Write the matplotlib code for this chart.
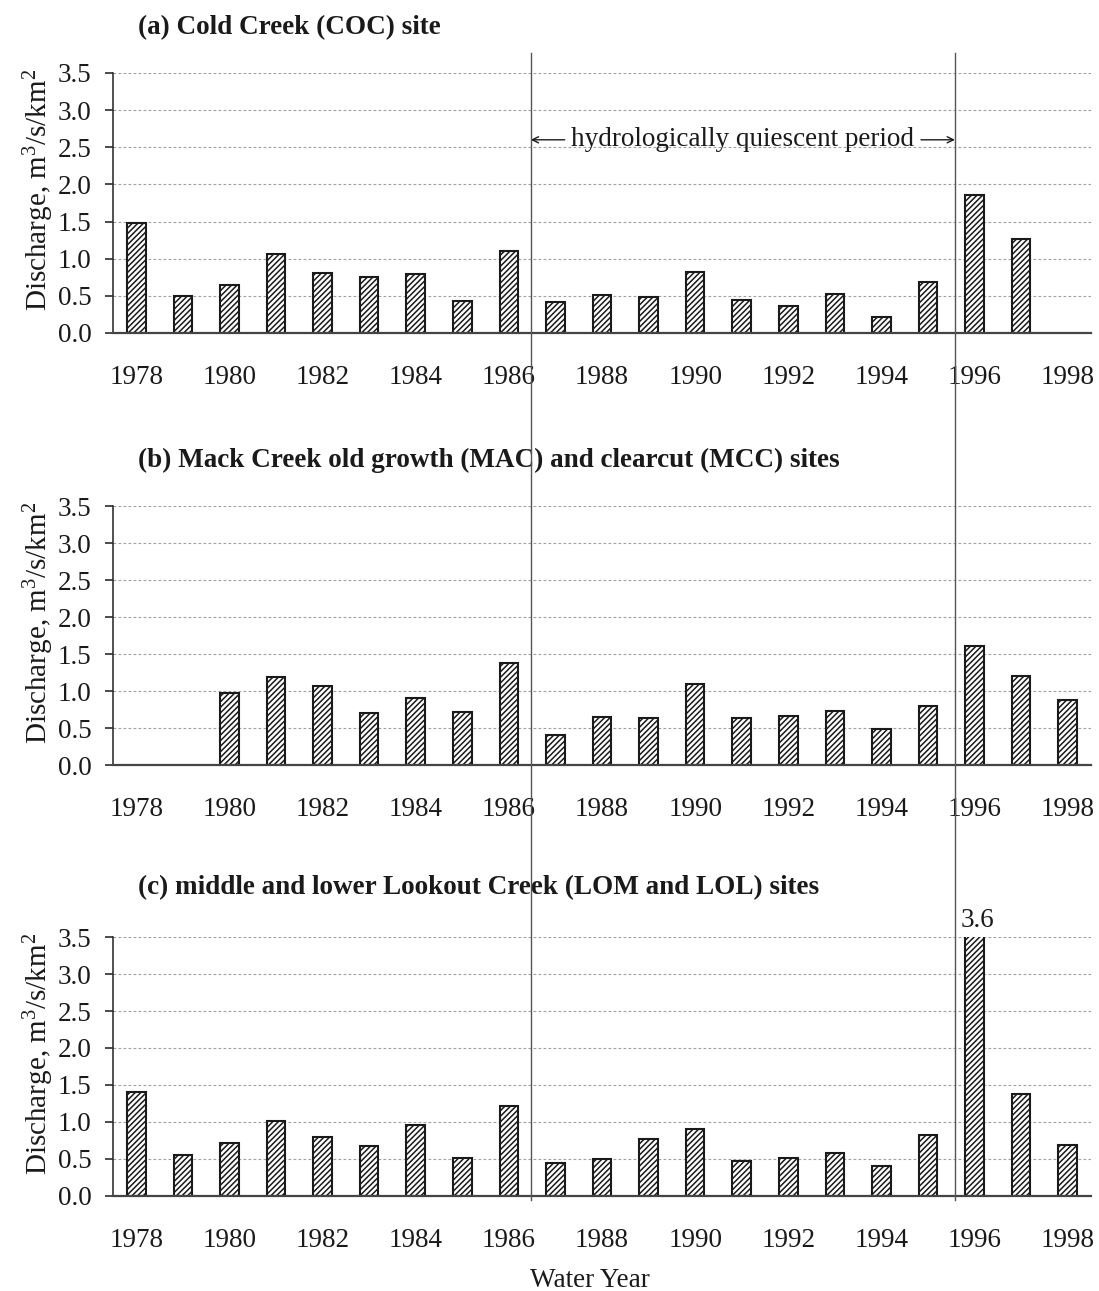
import numpy as np
import matplotlib
matplotlib.use("Agg")
import matplotlib.pyplot as plt
from matplotlib.lines import Line2D
from matplotlib.transforms import blended_transform_factory

# ---- data: annual peak discharge per unit area (m3/s/km2) ----
years = list(range(1978, 1999))

coc = [1.48, 0.50, 0.64, 1.06, 0.81, 0.75, 0.79, 0.43, 1.10,
       0.41, 0.51, 0.48, 0.82, 0.45, 0.36, 0.53, 0.21, 0.69,
       1.86, 1.26, np.nan]

mac_mcc = [np.nan, np.nan, 0.98, 1.19, 1.07, 0.70, 0.91, 0.72, 1.38,
           0.40, 0.65, 0.63, 1.10, 0.64, 0.66, 0.73, 0.49, 0.80,
           1.61, 1.20, 0.88]

lom_lol = [1.40, 0.55, 0.72, 1.02, 0.80, 0.67, 0.96, 0.51, 1.21,
           0.44, 0.50, 0.77, 0.91, 0.47, 0.52, 0.58, 0.40, 0.83,
           3.60, 1.38, 0.69]

titles = ["(a) Cold Creek (COC) site",
          "(b) Mack Creek old growth (MAC) and clearcut (MCC) sites",
          "(c) middle and lower Lookout Creek (LOM and LOL) sites"]

yticks = [0.0, 0.5, 1.0, 1.5, 2.0, 2.5, 3.0, 3.5]
xtick_years = list(range(1978, 1999, 2))
quiescent_period = [1986.47, 1995.58]
y_max = 3.5

# ---- styling ----
SERIF = ["Liberation Serif", "DejaVu Serif"]
plt.rcParams["font.family"] = SERIF
plt.rcParams["mathtext.fontset"] = "custom"
plt.rcParams["mathtext.rm"] = "Liberation Serif"
plt.rcParams["mathtext.it"] = "Liberation Serif:italic"
plt.rcParams["mathtext.bf"] = "Liberation Serif:bold"
plt.rcParams["hatch.linewidth"] = 1.1
FS = 19.5
INK = "#1a1a1a"

fig = plt.figure(figsize=(10.99, 12.91), dpi=100)

panel_rects = [
    [0.1028, 0.7421, 0.8899, 0.2014],
    [0.1028, 0.4074, 0.8899, 0.2006],
    [0.1028, 0.0736, 0.8899, 0.2006],
]
title_y = [0.9785, 0.6437, 0.3122]
series = [coc, mac_mcc, lom_lol]

axes = []
for rect, values, title, ty in zip(panel_rects, series, titles, title_y):
    ax = fig.add_axes(rect)
    axes.append(ax)
    vals = np.array(values, dtype=float)
    ok = ~np.isnan(vals)
    ax.bar(np.array(years)[ok], vals[ok], width=0.4, color="white",
           edgecolor=INK, linewidth=1.5, hatch="//////", zorder=2)

    ax.set_xlim(1977.5, 1998.5)
    ax.set_ylim(0, y_max)
    ax.set_yticks(yticks)
    ax.set_yticklabels([f"{t:.1f}" for t in yticks])
    ax.set_xticks(xtick_years)
    ax.set_xticklabels([str(y) for y in xtick_years])
    ax.tick_params(axis="x", length=0, pad=23, labelsize=FS, labelcolor=INK)
    ax.tick_params(axis="y", length=5.5, width=1.1, pad=10, labelsize=FS,
                   direction="out", labelcolor=INK, color=INK)

    ax.set_axisbelow(True)
    ax.yaxis.grid(True, linestyle=(0, (2.5, 2.0)), color="#a0a0a0",
                  linewidth=0.8)
    ax.xaxis.grid(False)

    for side in ("top", "right"):
        ax.spines[side].set_visible(False)
    ax.spines["left"].set_linewidth(1.1)
    ax.spines["left"].set_color("#222222")
    ax.spines["bottom"].set_linewidth(1.6)
    ax.spines["bottom"].set_color("#444444")

    ax.set_ylabel("Discharge, m$^3$/s/km$^2$", fontsize=21, color=INK)
    ax.yaxis.set_label_coords(-0.058, 0.55)

    fig.text(0.1256, ty, title, fontsize=FS, fontweight="bold",
             ha="left", va="center", color=INK)

# period label inside panel (a), with arrows running to the boundary lines
ax_a = axes[0]
mid = 0.5 * (quiescent_period[0] + quiescent_period[1])
y_lab = 2.6
ax_a.text(mid, y_lab, "hydrologically quiescent period",
          fontsize=FS, ha="center", va="center", zorder=4, color=INK)
arrow_kw = dict(arrowstyle="->,head_length=0.45,head_width=0.22",
                color=INK, lw=1.0, shrinkA=0, shrinkB=0)
ax_a.annotate("", xy=(quiescent_period[0], y_lab), xytext=(1987.2, y_lab),
              arrowprops=arrow_kw)
ax_a.annotate("", xy=(quiescent_period[1], y_lab), xytext=(1994.85, y_lab),
              arrowprops=arrow_kw)

# value label for the clipped bar in panel (c)
ax_c = axes[2]
vals_c = np.array(lom_lol, dtype=float)
for yr, v in zip(years, vals_c):
    if v > y_max:
        ax_c.annotate(f"{v:.1f}", xy=(yr, y_max), xytext=(2, 7),
                      textcoords="offset points", ha="center",
                      va="baseline", fontsize=FS, annotation_clip=False,
                      color=INK)

# period boundary lines spanning all three panels
trans = blended_transform_factory(ax_a.transData, fig.transFigure)
for xb in quiescent_period:
    fig.add_artist(Line2D([xb, xb], [1 - 53 / 1291, 1 - 1200 / 1291],
                          transform=trans, color="#555555", linewidth=1.0,
                          zorder=5))

fig.text(0.537, 0.0085, "Water Year", fontsize=FS, ha="center", va="center",
         color=INK)

fig.savefig("out.png", dpi=100)
